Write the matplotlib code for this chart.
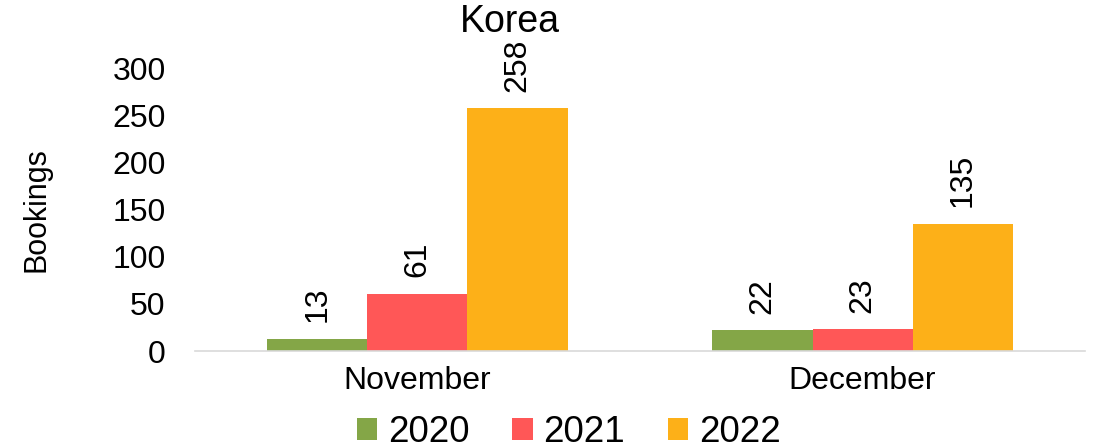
import matplotlib.pyplot as plt
import numpy as np

plt.rcParams['font.family'] = ['Liberation Sans', 'DejaVu Sans']

months = ["November", "December"]
years = ["2020", "2021", "2022"]
bookings = {
    "2020": [13, 22],
    "2021": [61, 23],
    "2022": [258, 135],
}
colors = ["#84A647", "#FF5757", "#FDB018"]

fig = plt.figure(figsize=(10.94, 4.48), dpi=100)
ax = fig.add_axes([0.178, 0.2165, 0.814, 0.63])

x = np.arange(len(months))
width = 0.225
for i, (yr, c) in enumerate(zip(years, colors)):
    pos = x + (i - 1) * width
    bars = ax.bar(pos, bookings[yr], width, color=c, label=yr)
    for b, v in zip(bars, bookings[yr]):
        ax.annotate(str(v), (b.get_x() + b.get_width() / 2, v),
                    xytext=(0, 12), textcoords='offset points',
                    rotation=90, ha='center', va='bottom', fontsize=23)

ax.set_xlim(-0.5, 1.5)
ax.set_ylim(0, 300)
ax.set_yticks(range(0, 301, 50))
ax.set_xticks(x)
ax.set_xticklabels(months)
ax.tick_params(axis='both', length=0, labelsize=23)
ax.tick_params(axis='y', pad=21)
ax.tick_params(axis='x', pad=11)
for s in ["top", "right", "left"]:
    ax.spines[s].set_visible(False)
ax.spines["bottom"].set_color("#D9D9D9")
ax.spines["bottom"].set_linewidth(1.2)

ax.set_ylabel("Bookings", fontsize=22, labelpad=44)
fig.text(0.466, 0.95, "Korea", ha='center', va='center', fontsize=27)

fig.legend(loc='center', bbox_to_anchor=(0.52, 0.035), ncol=3, frameon=False,
           fontsize=26.5, handlelength=0.55, handleheight=0.55, handletextpad=0.3,
           columnspacing=1.15)

fig.savefig("out.png", dpi=100)
